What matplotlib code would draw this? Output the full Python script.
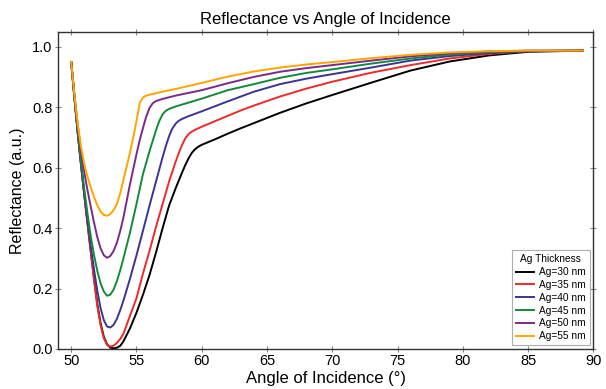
import matplotlib
matplotlib.use("Agg")
import matplotlib.pyplot as plt

plt.rcParams['font.family'] = ['Liberation Sans', 'DejaVu Sans']

# Reflectance curves for each Ag layer thickness (angle in degrees, reflectance in a.u.)
theta_30 = [50, 50.25, 50.5, 50.75, 51, 51.25, 51.5, 51.75, 52, 52.25, 52.5, 52.75, 53, 53.25, 53.5, 53.75,
            54, 54.5, 55, 55.5, 56, 56.5, 57, 57.5, 58, 58.5, 58.75, 59, 59.25, 59.5, 59.75, 60,
            61, 62, 63, 64, 66, 68, 70, 73, 76, 79, 82, 85, 89.2]
r_30 = [0.95, 0.83, 0.715, 0.61, 0.51, 0.415, 0.322, 0.232, 0.148, 0.085, 0.04, 0.015, 0.004, 0.002, 0.004, 0.01,
        0.025, 0.068, 0.12, 0.18, 0.245, 0.32, 0.4, 0.475, 0.532, 0.585, 0.61, 0.632, 0.65, 0.662, 0.67, 0.676,
        0.694, 0.713, 0.731, 0.748, 0.782, 0.813, 0.841, 0.882, 0.922, 0.952, 0.972, 0.984, 0.988]

theta_35 = [50, 50.25, 50.5, 50.75, 51, 51.25, 51.5, 51.75, 52, 52.25, 52.5, 52.75, 53, 53.25, 53.5, 53.75,
            54, 54.5, 55, 55.5, 56, 56.5, 57, 57.5, 58, 58.25, 58.5, 58.75, 59, 59.25, 59.5, 60,
            61, 62, 63, 64, 66, 68, 70, 73, 76, 79, 82, 85, 89.2]
r_35 = [0.95, 0.83, 0.715, 0.61, 0.51, 0.415, 0.32, 0.228, 0.142, 0.078, 0.035, 0.013, 0.008, 0.011, 0.02, 0.033,
        0.05, 0.11, 0.168, 0.25, 0.325, 0.405, 0.48, 0.555, 0.62, 0.65, 0.676, 0.698, 0.712, 0.72, 0.726, 0.736,
        0.754, 0.772, 0.79, 0.806, 0.836, 0.862, 0.885, 0.915, 0.94, 0.962, 0.977, 0.986, 0.989]

theta_40 = [50, 50.25, 50.5, 50.75, 51, 51.25, 51.5, 51.75, 52, 52.25, 52.5, 52.75, 53, 53.25, 53.5, 53.75,
            54, 54.5, 55, 55.5, 56, 56.5, 57, 57.25, 57.5, 57.75, 58, 58.25, 58.5, 59, 60,
            62, 64, 66, 68, 70, 73, 76, 79, 82, 85, 89.2]
r_40 = [0.95, 0.83, 0.717, 0.613, 0.515, 0.425, 0.34, 0.262, 0.192, 0.135, 0.095, 0.074, 0.071, 0.08, 0.1, 0.128,
        0.16, 0.232, 0.31, 0.392, 0.475, 0.555, 0.635, 0.672, 0.705, 0.73, 0.746, 0.756, 0.762, 0.771, 0.787,
        0.82, 0.852, 0.877, 0.895, 0.91, 0.932, 0.955, 0.97, 0.98, 0.986, 0.988]

theta_45 = [50, 50.25, 50.5, 50.75, 51, 51.25, 51.5, 51.75, 52, 52.25, 52.5, 52.75, 53, 53.25, 53.5, 53.75,
            54, 54.5, 55, 55.5, 56, 56.5, 56.75, 57, 57.25, 57.5, 58, 59, 60,
            62, 64, 66, 68, 70, 73, 76, 79, 82, 85, 89.2]
r_45 = [0.95, 0.832, 0.722, 0.622, 0.53, 0.447, 0.372, 0.31, 0.258, 0.217, 0.19, 0.176, 0.18, 0.197, 0.225, 0.26,
        0.3, 0.385, 0.48, 0.58, 0.655, 0.725, 0.755, 0.777, 0.789, 0.795, 0.803, 0.816, 0.829,
        0.857, 0.877, 0.898, 0.914, 0.926, 0.945, 0.962, 0.975, 0.983, 0.987, 0.988]

theta_50 = [50, 50.25, 50.5, 50.75, 51, 51.25, 51.5, 51.75, 52, 52.25, 52.5, 52.75, 53, 53.25, 53.5, 53.75,
            54, 54.25, 54.5, 54.75, 55, 55.25, 55.5, 55.75, 56, 56.25, 56.5, 57, 58, 60,
            62, 64, 66, 68, 70, 73, 76, 79, 82, 85, 89.2]
r_50 = [0.95, 0.84, 0.74, 0.655, 0.585, 0.525, 0.47, 0.418, 0.37, 0.333, 0.31, 0.302, 0.308, 0.325, 0.352, 0.39,
        0.435, 0.49, 0.545, 0.595, 0.645, 0.692, 0.732, 0.77, 0.798, 0.814, 0.821, 0.828, 0.839, 0.857,
        0.88, 0.901, 0.918, 0.93, 0.94, 0.955, 0.969, 0.979, 0.985, 0.988, 0.988]

theta_55 = [50, 50.25, 50.5, 50.75, 51, 51.25, 51.5, 51.75, 52, 52.25, 52.5, 52.75, 53, 53.25, 53.5, 53.75,
            54, 54.25, 54.5, 54.75, 55, 55.25, 55.5, 55.75, 56, 57, 58, 60,
            62, 64, 66, 68, 70, 73, 76, 79, 82, 85, 89.2]
r_55 = [0.95, 0.84, 0.745, 0.67, 0.612, 0.57, 0.535, 0.503, 0.476, 0.455, 0.444, 0.441, 0.447, 0.46, 0.48, 0.515,
        0.56, 0.605, 0.65, 0.7, 0.755, 0.815, 0.833, 0.839, 0.842, 0.852, 0.861, 0.881,
        0.902, 0.919, 0.932, 0.942, 0.95, 0.963, 0.974, 0.982, 0.986, 0.988, 0.988]

labels = ['Ag=30 nm', 'Ag=35 nm', 'Ag=40 nm', 'Ag=45 nm', 'Ag=50 nm', 'Ag=55 nm']
colors = ['#000000', '#ee2a2a', '#3a3592', '#138a3a', '#7a2a8c', '#ffa500']

series = [(theta_30, r_30), (theta_35, r_35), (theta_40, r_40),
          (theta_45, r_45), (theta_50, r_50), (theta_55, r_55)]

fig = plt.figure(figsize=(6.06, 3.89), dpi=100)
ax = fig.add_axes([0.096, 0.103, 0.883, 0.815])

for (th, r), lab, c in zip(series, labels, colors):
    ax.plot(th, r, color=c, lw=1.4, label=lab)

ax.set_xlim(49, 90)
ax.set_ylim(0, 1.05)
ax.set_xticks(range(50, 91, 5))
ax.set_yticks([0.0, 0.2, 0.4, 0.6, 0.8, 1.0])
ax.set_yticklabels(['0.0', '0.2', '0.4', '0.6', '0.8', '1.0'])

ax.tick_params(direction='inout', length=4, width=0.8, color='#888888',
               top=True, right=True, labelsize=10.5, pad=2)
for s in ax.spines.values():
    s.set_color('#333333')
    s.set_linewidth(1.0)

ax.set_title('Reflectance vs Angle of Incidence', fontsize=12, pad=6)
ax.set_xlabel('Angle of Incidence (°)', fontsize=12, labelpad=2)
ax.set_ylabel('Reflectance (a.u.)', fontsize=11.5, labelpad=5)

leg = ax.legend(title='Ag Thickness', loc='lower right', fontsize=7.3, title_fontsize=7.3,
                frameon=True, fancybox=False, edgecolor='#999999', handlelength=1.75,
                handletextpad=0.5, labelspacing=0.28, borderpad=0.4, borderaxespad=0.35)
leg.get_frame().set_linewidth(0.8)

fig.savefig('out.png', dpi=100)
